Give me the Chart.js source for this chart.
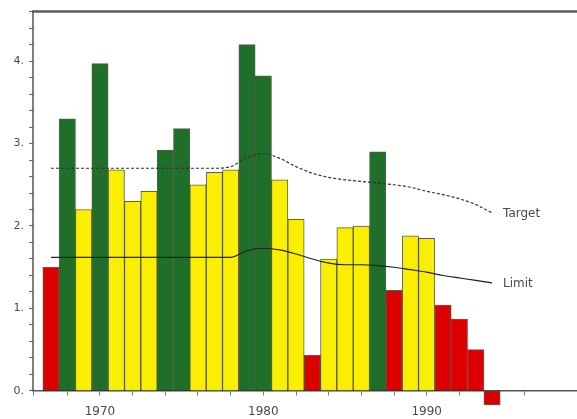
<!DOCTYPE html>
<html lang="en">
<head>
<meta charset="UTF-8">
<title>Annual values against target and limit</title>
<script src="https://cdn.jsdelivr.net/npm/chart.js"></script>
<style>
  html, body { margin: 0; padding: 0; background: #fff; }
</style>
</head>
<body>
<canvas id="chart" width="577" height="419"></canvas>
<script>
// yearly bars, status decides the colour (low = red, mid = yellow, high = green)
const years = [1967, 1968, 1969, 1970, 1971, 1972, 1973, 1974, 1975, 1976,
               1977, 1978, 1979, 1980, 1981, 1982, 1983, 1984, 1985, 1986,
               1987, 1988, 1989, 1990, 1991, 1992, 1993, 1994];
const values = [1.50, 3.30, 2.20, 3.97, 2.68, 2.30, 2.42, 2.92, 3.18, 2.50,
                2.65, 2.68, 4.20, 3.82, 2.56, 2.08, 0.43, 1.60, 1.98, 2.00,
                2.90, 1.22, 1.88, 1.85, 1.04, 0.87, 0.50, -0.17];
const status = ['low', 'high', 'mid', 'high', 'mid', 'mid', 'mid', 'high', 'high', 'mid',
                'mid', 'mid', 'high', 'high', 'mid', 'mid', 'low', 'mid', 'mid', 'mid',
                'high', 'low', 'mid', 'mid', 'low', 'low', 'low', 'low'];

const target = [2.70, 2.70, 2.70, 2.70, 2.70, 2.70, 2.70, 2.70, 2.70, 2.70,
                2.70, 2.72, 2.83, 2.88, 2.82, 2.72, 2.64, 2.59, 2.56, 2.54,
                2.52, 2.50, 2.47, 2.42, 2.38, 2.33, 2.26, 2.16];
const limit = [1.62, 1.62, 1.62, 1.62, 1.62, 1.62, 1.62, 1.62, 1.62, 1.62,
               1.62, 1.62, 1.70, 1.73, 1.71, 1.66, 1.60, 1.55, 1.53, 1.53,
               1.52, 1.50, 1.47, 1.44, 1.40, 1.37, 1.34, 1.31];

const yLabels = [0, 1, 2, 3, 4];

const statusColor = { low: '#dd0000', mid: '#fbef00', high: '#1f6e29' };
const textColor = '#4a4a4a';
const fontFamily = '"DejaVu Sans", sans-serif';

const toPoints = arr => years.map((yr, i) => ({ x: yr, y: arr[i] }));

// top frame line, left axis down to zero, and the end-of-line labels
const frame = {
  id: 'frame',
  afterDraw(chart) {
    const { ctx, chartArea } = chart;
    const y = chart.scales.y;
    ctx.save();
    ctx.strokeStyle = '#5a5a5a';
    ctx.lineWidth = 2.5;
    ctx.beginPath();
    ctx.moveTo(chartArea.left - 1, chartArea.top);
    ctx.lineTo(chart.width, chartArea.top);
    ctx.stroke();

    ctx.strokeStyle = '#555';
    ctx.lineWidth = 1.5;
    ctx.beginPath();
    ctx.moveTo(chartArea.left, chartArea.top);
    ctx.lineTo(chartArea.left, y.getPixelForValue(0));
    ctx.stroke();

    ctx.fillStyle = textColor;
    ctx.font = '12px ' + fontFamily;
    ctx.textBaseline = 'middle';
    chart.data.datasets.forEach((ds, i) => {
      if (ds.type !== 'line') return;
      const pts = chart.getDatasetMeta(i).data;
      const last = pts[pts.length - 1];
      ctx.fillText(ds.label, last.x + 11, last.y + 1);
    });
    ctx.restore();
  }
};

new Chart(document.getElementById('chart'), {
  type: 'bar',
  data: {
    datasets: [
      {
        type: 'line',
        label: 'Target',
        data: toPoints(target),
        borderColor: '#333',
        borderWidth: 1.2,
        borderDash: [3, 2],
        pointRadius: 0,
        cubicInterpolationMode: 'monotone',
        order: 0
      },
      {
        type: 'line',
        label: 'Limit',
        data: toPoints(limit),
        borderColor: '#222',
        borderWidth: 1.2,
        pointRadius: 0,
        cubicInterpolationMode: 'monotone',
        order: 0
      },
      {
        label: 'Value',
        data: toPoints(values),
        backgroundColor: status.map(s => statusColor[s]),
        borderColor: 'rgba(40, 40, 20, 0.75)',
        borderWidth: 1,
        borderSkipped: false,
        barPercentage: 1,
        categoryPercentage: 1,
        order: 1
      }
    ]
  },
  options: {
    responsive: false,
    animation: false,
    layout: { padding: { top: 9, bottom: 9, left: 0, right: 0 } },
    plugins: {
      legend: { display: false },
      tooltip: { enabled: false }
    },
    scales: {
      x: {
        type: 'linear',
        position: { y: 0 },
        min: 1965.9,
        max: 1999.2,
        offset: false,
        afterFit: s => { s.paddingLeft = 0; s.paddingRight = 0; },
        grid: { offset: false, drawOnChartArea: false, tickLength: 4, color: '#777' },
        border: { color: '#555', width: 1.5 },
        ticks: {
          stepSize: 2,
          autoSkip: false,
          maxRotation: 0,
          padding: 10,
          color: textColor,
          font: { family: fontFamily, size: 12 },
          callback: v => (v % 10 === 0 ? String(v) : '')
        }
      },
      y: {
        min: -0.2,
        max: 4.6,
        afterFit: s => { s.width = 33; },
        grid: { drawOnChartArea: false, tickLength: 4, color: '#666' },
        border: { display: false },
        ticks: {
          stepSize: 0.2,
          autoSkip: false,
          padding: 5,
          color: textColor,
          font: { family: fontFamily, size: 11 },
          callback: v => {
            const r = Math.round(v);
            return Math.abs(v - r) < 1e-6 && yLabels.includes(r) ? r + '.' : '';
          }
        },
        afterBuildTicks: s => { s.ticks = s.ticks.filter(t => t.value >= -1e-6); }
      }
    }
  },
  plugins: [frame]
});
</script>
</body>
</html>
